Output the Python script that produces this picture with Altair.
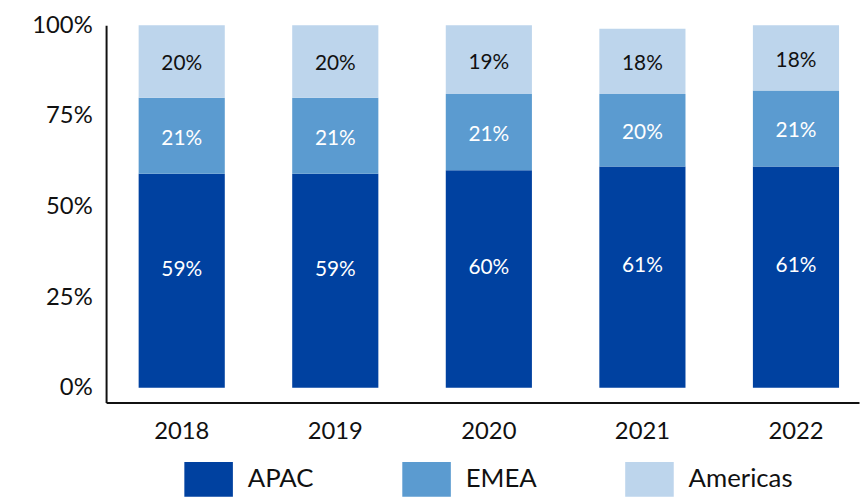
import altair as alt
import pandas as pd

years = ["2018", "2019", "2020", "2021", "2022"]
apac = [59, 59, 60, 61, 61]
emea = [21, 21, 21, 20, 21]
americas = [20, 20, 19, 18, 18]
regions = ["APAC", "EMEA", "Americas"]
colors = ["#0041A0", "#5B9BD0", "#BDD5EC"]
y_ticks = [0, 25, 50, 75, 100]

series = {"APAC": apac, "EMEA": emea, "Americas": americas}
rows = []
for i, yr in enumerate(years):
    for k, r in enumerate(regions):
        rows.append({"year": yr, "region": r, "value": series[r][i], "order": k})
df = pd.DataFrame(rows)

FONT = "Lato"

base = alt.Chart(df).transform_stack(
    stack="value", groupby=["year"], as_=["v0", "v1"],
    sort=[alt.SortField("order", order="ascending")]
).transform_calculate(mid="(datum.v0 + datum.v1) / 2")

x_enc = alt.X("year:N", sort=years, title=None,
              scale=alt.Scale(paddingInner=0.439, paddingOuter=0.171, align=0.62),
              axis=alt.Axis(labelAngle=0, ticks=False, domainColor="#111111", domainWidth=2,
                            labelPadding=17, labelFontSize=24, labelFont=FONT,
                            labelColor="#111111", grid=False))
y_scale = alt.Scale(domain=[-4.1, 100], nice=False, zero=False)

bars = base.mark_bar().encode(
    x=x_enc,
    y=alt.Y("v0:Q", scale=y_scale, title=None,
            axis=alt.Axis(values=y_ticks, labelExpr="datum.value + '%'", ticks=False,
                          domainColor="#111111", domainWidth=2, labelPadding=14,
                          labelFontSize=24, labelFont=FONT, labelColor="#111111", grid=False)),
    y2="v1:Q",
    color=alt.Color("region:N", scale=alt.Scale(domain=regions, range=colors),
                    legend=alt.Legend(title=None, orient="none", legendX=79, legendY=434,
                                      direction="horizontal", columns=3, columnPadding=89,
                                      padding=0, labelOffset=15,
                                      symbolType="M-1,-0.714L1,-0.714L1,0.714L-1,0.714Z",
                                      symbolSize=2401, symbolStrokeWidth=0, symbolOpacity=1,
                                      labelFontSize=26, labelFont=FONT, labelColor="#111111")),
)

text_apac = base.transform_filter("datum.region == 'APAC'").mark_text(
    font=FONT, fontSize=21, dy=-11, color="#FFFFFF"
).encode(
    x=alt.X("year:N", sort=years),
    y=alt.Y("mid:Q", scale=y_scale),
    text=alt.Text("label:N"),
).transform_calculate(label="datum.value + '%'")

text_other = base.transform_filter("datum.region != 'APAC'").mark_text(
    font=FONT, fontSize=21, dy=3
).encode(
    x=alt.X("year:N", sort=years),
    y=alt.Y("mid:Q", scale=y_scale),
    text=alt.Text("label:N"),
    color=alt.condition("datum.region == 'Americas'", alt.value("#111111"), alt.value("#FFFFFF")),
).transform_calculate(label="datum.value + '%'")

chart = alt.layer(bars, text_apac, text_other).properties(
    width=760, height=381,
    autosize=alt.AutoSizeParams(type="none"),
    padding={"left": 99, "top": 15, "right": 1, "bottom": 97},
).configure_view(stroke=None)

chart.save("out.html", embed_options={"renderer": "svg", "actions": False})
